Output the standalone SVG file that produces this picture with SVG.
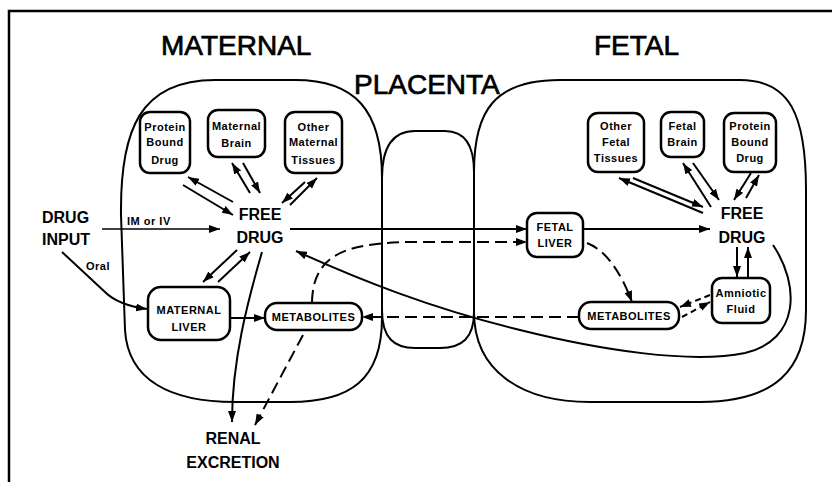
<svg xmlns="http://www.w3.org/2000/svg" width="832" height="482" viewBox="0 0 832 482">
<defs>
<style>
.frame{fill:none;stroke:#000;stroke-width:2.5}
.comp{fill:none;stroke:#000;stroke-width:2}
.box{fill:#fff;stroke:#000;stroke-width:2.5}
.ln{fill:none;stroke:#000;stroke-width:2}
.dsh{stroke-dasharray:12 6}
.sdsh{stroke-dasharray:6 4}
.title{font-family:"Liberation Sans",Arial,sans-serif;font-size:28px;fill:#000;stroke:#000;stroke-width:0.7}
.big{font-family:"Liberation Sans",Arial,sans-serif;font-size:16px;font-weight:bold;fill:#000}
.sm{font-family:"Liberation Sans",Arial,sans-serif;font-size:11px;font-weight:bold;fill:#000;letter-spacing:0.5px}
.mid{text-anchor:middle}
</style>
<marker id="ah" markerUnits="userSpaceOnUse" markerWidth="11" markerHeight="8" refX="11" refY="4" orient="auto">
<path d="M0,0 L11,4 L0,8 Z" fill="#000"/>
</marker>
</defs>
<rect width="832" height="482" fill="#fff"/>
<path class="frame" d="M9,482 L9,11 L832,11"/>

<g id="compartments">
<path id="maternal-compartment" class="comp" d="M121,215 C120,130 140,80 215,80 L295,80 C355,80 382,110 382,178 L382,318 C382,380 350,402 290,402 L235,402 C170,402 128,380 125,330 Z"/>
<path id="placenta-compartment" class="comp" d="M382,178 C382,148 392,131 415,131 L445,131 C465,131 474,145 474,172 L474,312 C474,338 462,348 440,348 L415,348 C394,348 382,338 382,310 Z"/>
<path id="fetal-compartment" class="comp" d="M474,172 C474,110 495,80 560,80 L740,80 C790,80 806,115 806,190 L806,310 C806,370 775,402 700,402 L590,402 C520,402 474,370 474,312 Z"/>
</g>

<g id="labels">
<text class="title" x="161" y="55">MATERNAL</text>
<text class="title" x="354" y="94">PLACENTA</text>
<text class="title" x="594" y="55">FETAL</text>
</g>

<g id="connectors">
<path class="ln" style="stroke-width:1.5" d="M102,229 L220,229" marker-end="url(#ah)"/>
<path class="ln" d="M62,252 L105,292 Q118,305 147,309" marker-end="url(#ah)"/>
<path class="ln" d="M233,202 L188,177" marker-end="url(#ah)"/>
<path class="ln" d="M183,185 L233,215" marker-end="url(#ah)"/>
<path class="ln" d="M250,193 L232,163" marker-end="url(#ah)"/>
<path class="ln" d="M243,163 L260,193" marker-end="url(#ah)"/>
<path class="ln" d="M290,205 L317,178" marker-end="url(#ah)"/>
<path class="ln" d="M305,182 L282,203" marker-end="url(#ah)"/>
<path class="ln" d="M237,250 L203,282" marker-end="url(#ah)"/>
<path class="ln" d="M218,282 L250,252" marker-end="url(#ah)"/>
<path class="ln" d="M230,318 L265,318" marker-end="url(#ah)"/>
<path class="ln" d="M262,252 C248,300 232,360 232,422" marker-end="url(#ah)"/>
<path class="ln dsh" d="M303,335 L255,425" marker-end="url(#ah)"/>
<path class="ln" d="M290,229 L527,229" marker-end="url(#ah)"/>
<path class="ln" d="M583,229 L710,229" marker-end="url(#ah)"/>
<path class="ln dsh" d="M312,302 C313,255 345,243 410,242 L527,242" marker-end="url(#ah)"/>
<path class="ln dsh" d="M579,317 L362,317" marker-end="url(#ah)"/>
<path class="ln dsh" d="M587,243 C605,250 620,270 632,302" marker-end="url(#ah)"/>
<path class="ln sdsh" d="M710,295 L680,307" marker-end="url(#ah)"/>
<path class="ln sdsh" d="M682,317 L710,302" marker-end="url(#ah)"/>
<path class="ln" d="M737,247 L737,277" marker-end="url(#ah)"/>
<path class="ln" d="M748,277 L748,247" marker-end="url(#ah)"/>
<path class="ln" d="M633,178 L703,207" marker-end="url(#ah)"/>
<path class="ln" d="M703,213 L619,178" marker-end="url(#ah)"/>
<path class="ln" d="M711,207 L683,163" marker-end="url(#ah)"/>
<path class="ln" d="M693,163 L719,200" marker-end="url(#ah)"/>
<path class="ln" d="M751,173 L734,200" marker-end="url(#ah)"/>
<path class="ln" d="M746,198 L759,175" marker-end="url(#ah)"/>
<path class="ln" d="M773,245 C800,285 800,340 745,353 C690,364 600,350 520,330 C430,308 360,280 296,251" marker-end="url(#ah)"/>
</g>

<g id="drug-input">
<text class="big" x="42" y="223">DRUG</text>
<text class="big" x="42" y="245">INPUT</text>
</g>
<g id="route-labels">
<text class="sm" x="127" y="225">IM or IV</text>
<text class="sm" x="86" y="270">Oral</text>
</g>
<g id="maternal-free-drug">
<text class="big mid" x="260" y="220">FREE</text>
<text class="big mid" x="260" y="243">DRUG</text>
</g>
<g id="renal-excretion">
<text class="big mid" x="233" y="444">RENAL</text>
<text class="big mid" x="233" y="468">EXCRETION</text>
</g>
<g id="fetal-free-drug">
<text class="big mid" x="742" y="219">FREE</text>
<text class="big mid" x="742" y="243">DRUG</text>
</g>

<g id="maternal-protein-bound-drug">
<rect class="box" x="140" y="112" width="50" height="61" rx="10"/>
<text class="sm mid" x="165" y="131">Protein</text>
<text class="sm mid" x="165" y="146">Bound</text>
<text class="sm mid" x="165" y="164">Drug</text>
</g>
<g id="maternal-brain">
<rect class="box" x="208" y="110" width="57" height="47" rx="10"/>
<text class="sm mid" x="236.5" y="130">Maternal</text>
<text class="sm mid" x="236.5" y="147">Brain</text>
</g>
<g id="other-maternal-tissues">
<rect class="box" x="285" y="112" width="57" height="61" rx="10"/>
<text class="sm mid" x="313.5" y="131">Other</text>
<text class="sm mid" x="313.5" y="146">Maternal</text>
<text class="sm mid" x="313.5" y="164">Tissues</text>
</g>
<g id="maternal-liver">
<rect class="box" x="148" y="287" width="82" height="53" rx="13"/>
<text class="sm mid" x="189" y="314">MATERNAL</text>
<text class="sm mid" x="189" y="331">LIVER</text>
</g>
<g id="maternal-metabolites">
<rect class="box" x="265" y="303" width="97" height="27" rx="12"/>
<text class="sm mid" x="313.5" y="321">METABOLITES</text>
</g>
<g id="fetal-liver">
<rect class="box" x="527" y="213" width="56" height="44" rx="10"/>
<text class="sm mid" x="555" y="231">FETAL</text>
<text class="sm mid" x="555" y="247">LIVER</text>
</g>
<g id="fetal-metabolites">
<rect class="box" x="579" y="302" width="100" height="27" rx="12"/>
<text class="sm mid" x="629" y="320">METABOLITES</text>
</g>
<g id="amniotic-fluid">
<rect class="box" x="712" y="278" width="58" height="45" rx="10"/>
<text class="sm mid" x="741" y="297">Amniotic</text>
<text class="sm mid" x="741" y="313">Fluid</text>
</g>
<g id="other-fetal-tissues">
<rect class="box" x="588" y="113" width="56" height="59" rx="10"/>
<text class="sm mid" x="616" y="130">Other</text>
<text class="sm mid" x="616" y="146">Fetal</text>
<text class="sm mid" x="616" y="162">Tissues</text>
</g>
<g id="fetal-brain">
<rect class="box" x="661" y="112" width="43" height="45" rx="10"/>
<text class="sm mid" x="682.5" y="130">Fetal</text>
<text class="sm mid" x="682.5" y="146">Brain</text>
</g>
<g id="fetal-protein-bound-drug">
<rect class="box" x="724" y="113" width="52" height="59" rx="10"/>
<text class="sm mid" x="750" y="130">Protein</text>
<text class="sm mid" x="750" y="146">Bound</text>
<text class="sm mid" x="750" y="162">Drug</text>
</g>
</svg>
